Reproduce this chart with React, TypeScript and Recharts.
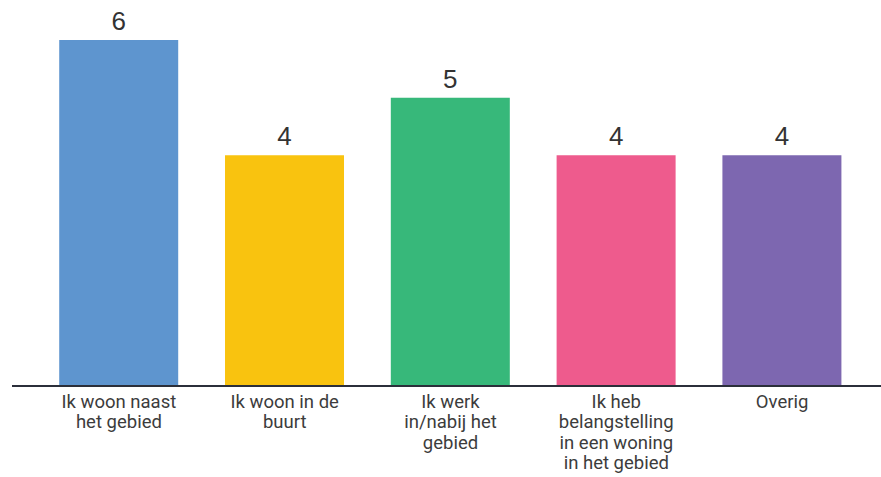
import { BarChart, Bar, XAxis, YAxis, Cell, LabelList } from "recharts";

const categories = [
  "Ik woon naast het gebied",
  "Ik woon in de buurt",
  "Ik werk in/nabij het gebied",
  "Ik heb belangstelling in een woning in het gebied",
  "Overig",
];
const tickLines = [
  ["Ik woon naast", "het gebied"],
  ["Ik woon in de", "buurt"],
  ["Ik werk", "in/nabij het", "gebied"],
  ["Ik heb", "belangstelling", "in een woning", "in het gebied"],
  ["Overig"],
];
const values = [6, 4, 5, 4, 4];
const colors = ["#5e95cf", "#f9c30f", "#37b87a", "#ee5b8d", "#7d67b0"];

const data = categories.map((name, i) => ({ name, value: values[i] }));

function Tick({ x, y, index }: any) {
  const lines = tickLines[index] || [];
  return (
    <text
      x={x}
      y={y}
      textAnchor="middle"
      fill="#3c3c3c"
      fontSize={18.5}
      fontFamily="Roboto, sans-serif"
    >
      {lines.map((l, i) => (
        <tspan key={i} x={x} dy={i === 0 ? 14 : 20.3}>
          {l}
        </tspan>
      ))}
    </text>
  );
}

function ValueLabel({ x, y, width, value }: any) {
  return (
    <text
      x={x + width / 2}
      y={y - 10}
      textAnchor="middle"
      fill="#333"
      fontSize={26}
      fontFamily="'Liberation Sans', Arial, sans-serif"
    >
      {value}
    </text>
  );
}

export default function App() {
  return (
    <div style={{ position: "absolute", left: 0, top: 0, background: "#fff" }}>
      <BarChart
        width={881}
        height={477}
        data={data}
        margin={{ top: 40, right: 0, bottom: 0, left: 12 }}
        barCategoryGap="14%"
      >
        <XAxis
          dataKey="name"
          height={91}
          interval={0}
          tickLine={false}
          padding={{ left: 24, right: 16 }}
          axisLine={{ stroke: "#2b2f3a", strokeWidth: 2 }}
          tick={<Tick />}
        />
        <YAxis hide domain={[0, 6]} />
        <Bar dataKey="value" isAnimationActive={false}>
          {data.map((d, i) => (
            <Cell key={d.name} fill={colors[i]} />
          ))}
          <LabelList dataKey="value" content={<ValueLabel />} />
        </Bar>
      </BarChart>
    </div>
  );
}
